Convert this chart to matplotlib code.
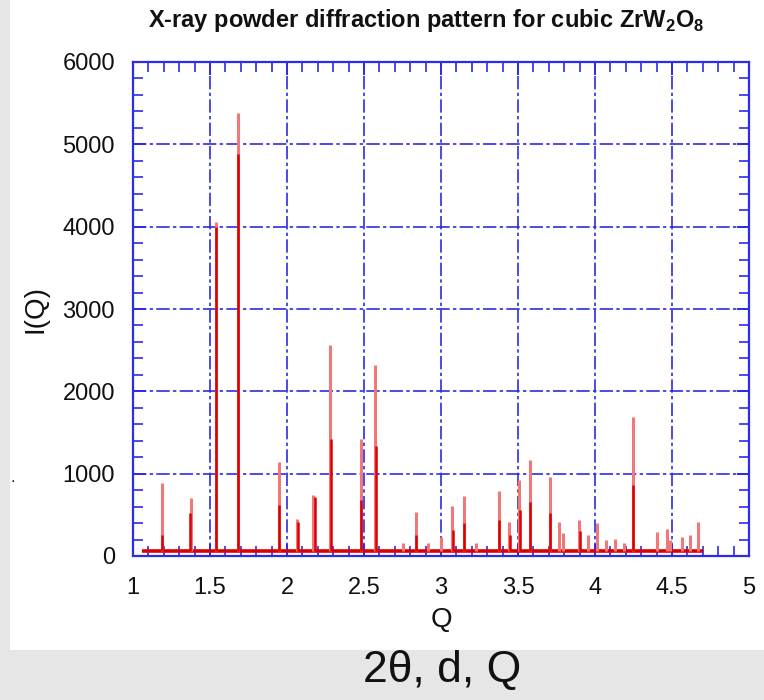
import matplotlib
matplotlib.use("Agg")
import matplotlib.pyplot as plt
from matplotlib.patches import Rectangle
from matplotlib.ticker import MultipleLocator
from matplotlib import font_manager

# ---- data ----
peak_q = [1.19, 1.375, 1.537, 1.683, 1.948, 2.063, 2.17, 2.279, 2.48, 2.57,
          2.751, 2.838, 2.918, 2.998, 3.074, 3.15, 3.23, 3.374, 3.442, 3.509,
          3.578, 3.708, 3.766, 3.79, 3.898, 3.957, 4.011, 4.071, 4.13, 4.188,
          4.244, 4.405, 4.466, 4.49, 4.566, 4.618, 4.667]
peak_i = [890, 700, 4060, 5380, 1140, 450, 740, 2560, 1420, 2320,
          160, 540, 160, 235, 608, 730, 162, 795, 418, 923,
          1166, 956, 418, 278, 437, 255, 397, 194, 203, 157,
          1685, 296, 324, 194, 235, 255, 418]

sub_q = [1.19, 1.368, 1.539, 1.684, 1.948, 2.072, 2.18, 2.285, 2.482, 2.575,
         2.84, 3.076, 3.152, 3.376, 3.447, 3.511, 3.58, 3.71, 3.9, 4.246]
sub_i = [255, 520, 4000, 4880, 620, 410, 715, 1418, 680, 1330,
         255, 316, 405, 437, 250, 560, 660, 518, 300, 862]

q_range = [1.06, 4.70]
baseline = [55, 55]

x_ticks = [1, 1.5, 2, 2.5, 3, 3.5, 4, 4.5, 5]
x_tick_labels = ["1", "1.5", "2", "2.5", "3", "3.5", "4", "4.5", "5"]
y_ticks = [0, 1000, 2000, 3000, 4000, 5000, 6000]

# ---- fonts ----
avail = {f.name for f in font_manager.fontManager.ttflist}
sans = "Liberation Sans" if "Liberation Sans" in avail else "DejaVu Sans"
narrow = "Liberation Sans Narrow" if "Liberation Sans Narrow" in avail else sans
plt.rcParams["font.family"] = [sans, "DejaVu Sans"]
plt.rcParams["mathtext.fontset"] = "custom"
plt.rcParams["mathtext.rm"] = sans
plt.rcParams["mathtext.bf"] = sans + ":bold"

W, H = 764, 700
fig = plt.figure(figsize=(W / 100, H / 100), dpi=100)
fig.patch.set_facecolor("#e6e6e6")

# white slide panel
fig.patches.append(Rectangle((10 / W, 50 / H), 1 - 10 / W, 1 - 50 / H,
                             transform=fig.transFigure, facecolor="white",
                             edgecolor="none", zorder=-5))

ax = fig.add_axes([133 / W, 1 - 556 / H, (749 - 133) / W, (556 - 62) / H])
ax.set_zorder(2)
ax.set_facecolor("white")

blue = "#2b2be8"
light_red = "#f07878"
red = "#dd0000"

ax.plot(q_range, baseline, color=red, lw=2.6, solid_capstyle="butt", zorder=3)
ax.vlines(peak_q, baseline[0], peak_i, color=light_red, lw=2.2, zorder=3)
ax.vlines(sub_q, baseline[0], sub_i, color=red, lw=1.8, zorder=4)

ax.set_xlim(1, 5)
ax.set_ylim(0, 6000)
ax.set_xticks(x_ticks)
ax.set_xticklabels(x_tick_labels)
ax.set_yticks(y_ticks)
ax.xaxis.set_minor_locator(MultipleLocator(0.1))
ax.yaxis.set_minor_locator(MultipleLocator(200))

ax.grid(True, which="major", color=blue, lw=1.2, linestyle=(0, (8, 2, 2, 2)))
ax.set_axisbelow(True)

for s in ax.spines.values():
    s.set_color(blue)
    s.set_linewidth(1.6)

ax.tick_params(which="both", direction="in", top=True, right=True,
               color=blue, labelsize=17, labelcolor="#111111")
ax.tick_params(which="major", length=9, width=1.4)
ax.tick_params(which="minor", length=7, width=1.2)
ax.tick_params(axis="x", which="major", pad=15)
ax.tick_params(axis="y", which="major", pad=13)

ax.set_xlabel("Q", fontsize=20, color="#111111", labelpad=6)
ax.set_ylabel("I(Q)", fontsize=20, color="#111111", labelpad=10)

fig.text(426 / W, 1 - 20 / H,
         r"X-ray powder diffraction pattern for cubic ZrW$_\mathbf{2}$O$_\mathbf{8}$",
         ha="center", va="center", fontsize=17, fontweight="bold", color="#111111")

fig.text(10 / W, 1 - 478 / H, ".", fontsize=12, ha="left", va="center", color="#222222")

fig.text(442 / W, 1 - 670 / H, "2θ, d, Q", ha="center", va="center",
         fontsize=32, family=[narrow, "DejaVu Sans"], color="#111111")

fig.savefig("out.png", dpi=100, facecolor=fig.get_facecolor())
